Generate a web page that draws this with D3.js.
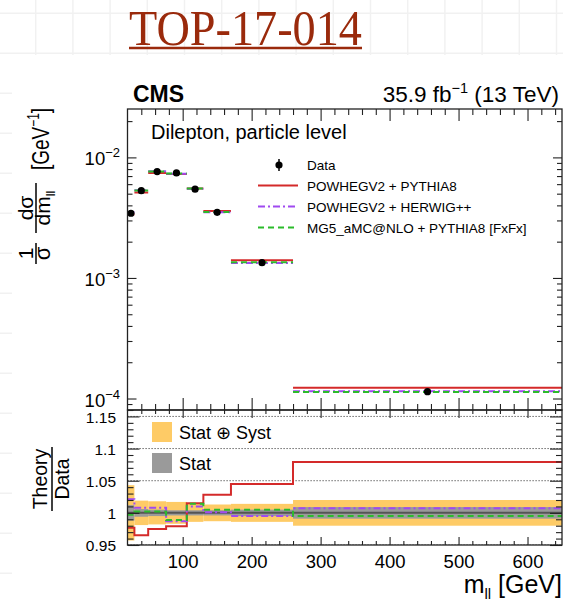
<!DOCTYPE html>
<html>
<head>
<meta charset="utf-8">
<script src="https://cdn.jsdelivr.net/npm/d3@7"></script>
<style>
  body { margin: 0; background: #fff; }
  svg { display: block; }
  text { font-family: "Liberation Sans", Arial, Helvetica, sans-serif; fill: #000; }
</style>
</head>
<body>
<svg id="chart" width="563" height="601"></svg>
<script>
// m_ll bin edges [GeV]
const binEdges = [20, 30, 50, 76, 106, 130, 170, 260, 650];
// normalised differential cross section (1/sigma dsigma/dm_ll) [GeV^-1]
const dataValues = [3.44e-3, 5.30e-3, 7.62e-3, 7.43e-3, 5.45e-3, 3.50e-3, 1.34e-3, 1.14e-4];
// theory / data ratios
const ratioPowhegPythia = [0.977, 0.965, 0.975, 0.979, 1.015, 1.028, 1.045, 1.079];
const ratioPowhegHerwig = [1.021, 1.008, 1.008, 0.987, 1.010, 1.001, 0.995, 1.007];
const ratioMg5Pythia    = [0.997, 1.002, 1.002, 0.989, 1.014, 1.005, 1.005, 0.995];
// relative uncertainties of the measurement
const totalUnc = [0.043, 0.019, 0.018, 0.017, 0.014, 0.013, 0.014, 0.020];
const statUnc  = [0.012, 0.006, 0.005, 0.004, 0.004, 0.004, 0.005, 0.009];
// axis ticks
const xTickValues = [100, 200, 300, 400, 500, 600];
const topDecades = [-4, -3, -2];
const ratioTickValues = [0.95, 1, 1.05, 1.1, 1.15];
const ratioTickLabels = ["0.95", "1", "1.05", "1.1", "1.15"];
const legendNames = ["Data", "POWHEGV2 + PYTHIA8", "POWHEGV2 + HERWIG++", "MG5_aMC@NLO + PYTHIA8 [FxFx]"];

const W = 563, H = 601;
const svg = d3.select("#chart");

// slide background with faint grid
const bg = svg.append("g");
bg.append("rect").attr("width", W).attr("height", H).attr("fill", "#fff");
const gridX = d3.range(-1.5, W, 37.2), gridY = d3.range(13.3, H, 40);
bg.selectAll("line.gx").data(gridX).join("line")
  .attr("x1", d => d).attr("x2", d => d).attr("y1", 0).attr("y2", H)
  .attr("stroke", "#f1f1f1").attr("stroke-width", 1.5);
bg.selectAll("line.gy").data(gridY).join("line")
  .attr("x1", 0).attr("x2", W).attr("y1", d => d).attr("y2", d => d)
  .attr("stroke", "#f1f1f1").attr("stroke-width", 1.5);
bg.append("rect").attr("x", 12).attr("y", 55).attr("width", W - 12).attr("height", H - 55).attr("fill", "#fff");

// title
svg.append("text").attr("x", 129).attr("y", 45)
  .attr("textLength", 233).attr("lengthAdjust", "spacingAndGlyphs")
  .style("font-family", "'Liberation Serif', 'DejaVu Serif', serif")
  .style("font-size", "50px").style("fill", "#9a2a0c")
  .text("TOP-17-014");
svg.append("line").attr("x1", 129).attr("x2", 362).attr("y1", 48).attr("y2", 48)
  .attr("stroke", "#9a2a0c").attr("stroke-width", 2.5);

// scales
const x = d3.scaleLinear().domain([20, 650]).range([127.5, 562]);
const yTop = d3.scaleLog().domain([8.03e-5, 0.0252]).range([410, 109]);
const yRat = d3.scaleLinear().domain([0.95, 1.16]).range([545, 410]);

const bins = d3.range(dataValues.length).map(i => ({
  lo: binEdges[i], hi: binEdges[i + 1], mid: (binEdges[i] + binEdges[i + 1]) / 2,
  data: dataValues[i], tot: totalUnc[i], stat: statUnc[i]
}));

const models = [
  { name: legendNames[1], ratio: ratioPowhegPythia, color: "#d42a2a", dash: null },
  { name: legendNames[2], ratio: ratioPowhegHerwig, color: "#a04af0", dash: "7,3,2,3" },
  { name: legendNames[3], ratio: ratioMg5Pythia, color: "#2bbb2b", dash: "6,4" }
];

const defs = svg.append("defs");
defs.append("clipPath").attr("id", "clipTop").append("rect")
  .attr("x", x.range()[0]).attr("y", 109).attr("width", x.range()[1] - x.range()[0]).attr("height", 301);
defs.append("clipPath").attr("id", "clipRat").append("rect")
  .attr("x", x.range()[0]).attr("y", 410).attr("width", x.range()[1] - x.range()[0]).attr("height", 135);

// ---------- upper panel ----------
const upper = svg.append("g").attr("clip-path", "url(#clipTop)");
models.forEach(m => {
  upper.append("g").selectAll("line").data(bins).join("line")
    .attr("x1", d => x(d.lo)).attr("x2", d => x(d.hi))
    .attr("y1", (d, i) => yTop(d.data * m.ratio[i])).attr("y2", (d, i) => yTop(d.data * m.ratio[i]))
    .attr("stroke", m.color).attr("stroke-width", 2)
    .attr("stroke-dasharray", m.dash);
});
upper.append("g").selectAll("line").data(bins).join("line")
  .attr("x1", d => x(d.mid)).attr("x2", d => x(d.mid))
  .attr("y1", d => yTop(d.data * (1 - d.tot))).attr("y2", d => yTop(d.data * (1 + d.tot)))
  .attr("stroke", "#000").attr("stroke-width", 1.5);
upper.append("g").selectAll("circle").data(bins).join("circle")
  .attr("cx", d => x(d.mid)).attr("cy", d => yTop(d.data)).attr("r", 3.6).attr("fill", "#000");

// ---------- ratio panel ----------
const rat = svg.append("g").attr("clip-path", "url(#clipRat)");
rat.append("g").selectAll("rect").data(bins).join("rect")
  .attr("x", d => x(d.lo)).attr("width", d => x(d.hi) - x(d.lo))
  .attr("y", d => yRat(1 + d.tot)).attr("height", d => yRat(1 - d.tot) - yRat(1 + d.tot))
  .attr("fill", "#fecb66");
rat.append("g").selectAll("rect").data(bins).join("rect")
  .attr("x", d => x(d.lo)).attr("width", d => x(d.hi) - x(d.lo))
  .attr("y", d => yRat(1 + d.stat)).attr("height", d => yRat(1 - d.stat) - yRat(1 + d.stat))
  .attr("fill", "#9a9a9a");
rat.append("g").selectAll("line").data([0.95, 1.05, 1.1, 1.15]).join("line")
  .attr("x1", x.range()[0]).attr("x2", x.range()[1])
  .attr("y1", d => yRat(d)).attr("y2", d => yRat(d))
  .attr("stroke", "#444").attr("stroke-width", 1).attr("stroke-dasharray", "1.2,1.8");
rat.append("line").attr("x1", x.range()[0]).attr("x2", x.range()[1])
  .attr("y1", yRat(1)).attr("y2", yRat(1)).attr("stroke", "#555").attr("stroke-width", 2);
const step = d3.line().x(d => x(d[0])).y(d => yRat(d[1])).curve(d3.curveStepAfter);
models.forEach(m => {
  const pts = binEdges.map((e, i) => [e, m.ratio[Math.min(i, m.ratio.length - 1)]]);
  rat.append("path").attr("d", step(pts)).attr("fill", "none")
    .attr("stroke", m.color).attr("stroke-width", 2).attr("stroke-dasharray", m.dash);
});

// ---------- axes ----------
function styleAxis(g) {
  g.select(".domain").remove();
  g.selectAll(".tick line").attr("stroke", "#222").attr("stroke-width", 1.1);
  g.attr("font-family", null).attr("font-size", null);
}
const xMinor = d3.range(40, 650, 20).filter(v => v % 100 !== 0);
function xAxes(yPos, orient, major, minor, withLabels) {
  const gen = orient === "bottom" ? d3.axisBottom : d3.axisTop;
  svg.append("g").attr("transform", `translate(0,${yPos})`)
    .call(gen(x).tickValues(xMinor).tickSize(-minor).tickSizeOuter(0).tickFormat(""))
    .call(styleAxis);
  const g = svg.append("g").attr("transform", `translate(0,${yPos})`)
    .call(gen(x).tickValues(xTickValues).tickSize(-major).tickSizeOuter(0)
      .tickPadding(9.5).tickFormat(withLabels ? d3.format("d") : ""))
    .call(styleAxis);
  g.selectAll("text").style("font-size", "18.5px");
}
xAxes(410, "bottom", 12, 6, false);
xAxes(109, "top", 12, 6, false);
xAxes(410, "top", 8, 4, false);
xAxes(545, "bottom", 8, 4, true);

// log y axis of the upper panel
const logMinor = [];
[-5, -4, -3, -2].forEach(e => d3.range(2, 10).forEach(k => {
  const v = k * Math.pow(10, e);
  if (v > yTop.domain()[0] && v < yTop.domain()[1]) logMinor.push(v);
}));
const logMajor = topDecades.map(e => Math.pow(10, e));
[["left", x.range()[0]], ["right", x.range()[1]]].forEach(([side, xPos]) => {
  const gen = side === "left" ? d3.axisLeft : d3.axisRight;
  svg.append("g").attr("transform", `translate(${xPos},0)`)
    .call(gen(yTop).tickValues(logMinor).tickSize(-5).tickSizeOuter(0).tickFormat(""))
    .call(styleAxis);
  const g = svg.append("g").attr("transform", `translate(${xPos},0)`)
    .call(gen(yTop).tickValues(logMajor).tickSize(-9).tickSizeOuter(0).tickPadding(7.5).tickFormat(""))
    .call(styleAxis);
  if (side === "left") {
    g.selectAll(".tick text").each(function (d) {
      const t = d3.select(this).attr("dy", null).attr("y", 7.5).style("font-size", "18.5px");
      t.append("tspan").text("10");
      t.append("tspan").attr("dy", -8).style("font-size", "13px").text("\u2212" + (-Math.round(Math.log10(d))));
    });
  }
});

// linear y axis of the ratio panel
const ratMinor = d3.range(95, 117).map(v => v / 100).filter(v => Math.round(v * 100) % 5 !== 0);
[["left", x.range()[0]], ["right", x.range()[1]]].forEach(([side, xPos]) => {
  const gen = side === "left" ? d3.axisLeft : d3.axisRight;
  svg.append("g").attr("transform", `translate(${xPos},0)`)
    .call(gen(yRat).tickValues(ratMinor).tickSize(-6).tickSizeOuter(0).tickFormat(""))
    .call(styleAxis);
  const g = svg.append("g").attr("transform", `translate(${xPos},0)`)
    .call(gen(yRat).tickValues(ratioTickValues).tickSize(-12).tickSizeOuter(0).tickPadding(11.5)
      .tickFormat((d, i) => side === "left" ? ratioTickLabels[i] : ""))
    .call(styleAxis);
  g.selectAll("text").style("font-size", "15.5px").attr("dy", "0.36em");
});

// frames
[[109, 410], [410, 545]].forEach(([y0, y1]) => {
  svg.append("rect").attr("x", x.range()[0]).attr("y", y0)
    .attr("width", x.range()[1] - x.range()[0]).attr("height", y1 - y0)
    .attr("fill", "none").attr("stroke", "#222").attr("stroke-width", 1.3);
});

// ---------- texts ----------
svg.append("text").attr("x", 133).attr("y", 101.5).style("font-weight", "bold").style("font-size", "23px").text("CMS");
const lumi = svg.append("text").attr("x", 559).attr("y", 101.5).attr("text-anchor", "end").style("font-size", "22.5px");
lumi.append("tspan").text("35.9 fb");
lumi.append("tspan").attr("dy", -9).style("font-size", "14.5px").text("\u22121");
lumi.append("tspan").attr("dy", 9).text(" (13 TeV)");
svg.append("text").attr("x", 151).attr("y", 138.5).style("font-size", "20px").text("Dilepton, particle level");

// legend of the upper panel
const legY = [165, 185.5, 206.5, 227.5];
svg.append("line").attr("x1", 279).attr("x2", 279).attr("y1", legY[0] - 6).attr("y2", legY[0] + 6)
  .attr("stroke", "#000").attr("stroke-width", 1.5);
svg.append("circle").attr("cx", 279).attr("cy", legY[0]).attr("r", 3.6).attr("fill", "#000");
models.forEach((m, i) => {
  svg.append("line").attr("x1", 258).attr("x2", 298).attr("y1", legY[i + 1]).attr("y2", legY[i + 1])
    .attr("stroke", m.color).attr("stroke-width", 2).attr("stroke-dasharray", m.dash);
});
legendNames.forEach((n, i) => {
  svg.append("text").attr("x", 307).attr("y", legY[i] + 5).style("font-size", "13.5px").text(n);
});

// legend of the ratio panel
svg.append("rect").attr("x", 152).attr("y", 422).attr("width", 20).attr("height", 20).attr("fill", "#fecb66");
svg.append("text").attr("x", 179).attr("y", 438.5).style("font-size", "18px").text("Stat \u2295 Syst");
svg.append("rect").attr("x", 152).attr("y", 453).attr("width", 20).attr("height", 20).attr("fill", "#9a9a9a");
svg.append("text").attr("x", 179).attr("y", 469.5).style("font-size", "18px").text("Stat");

// y-axis title of the upper panel
function rot(xp, yp) { return `translate(${xp},${yp}) rotate(-90)`; }
svg.append("text").attr("transform", rot(33, 253.5)).attr("text-anchor", "middle").style("font-size", "21px").text("1");
svg.append("text").attr("transform", rot(50, 253.5)).attr("text-anchor", "middle").style("font-size", "22px").text("\u03c3");
svg.append("line").attr("x1", 36).attr("x2", 36).attr("y1", 243).attr("y2", 264).attr("stroke", "#000").attr("stroke-width", 1.5);
svg.append("text").attr("transform", rot(33, 208)).attr("text-anchor", "middle").style("font-size", "21px").text("d\u03c3");
const dm = svg.append("text").attr("transform", rot(50, 208)).attr("text-anchor", "middle").style("font-size", "21px");
dm.append("tspan").text("dm");
dm.append("tspan").attr("dy", 5).style("font-size", "13px").text("ll");
svg.append("line").attr("x1", 36).attr("x2", 36).attr("y1", 183).attr("y2", 233).attr("stroke", "#000").attr("stroke-width", 1.5);
const gev = svg.append("text").attr("transform", rot(49, 139) + " scale(1,1.3)")
  .attr("text-anchor", "middle").style("font-size", "19px");
gev.append("tspan").text("[GeV");
gev.append("tspan").attr("dy", -8).style("font-size", "12px").text("\u22121");
gev.append("tspan").attr("dy", 8).text("]");

// y-axis title of the ratio panel
svg.append("text").attr("transform", rot(47, 479)).attr("text-anchor", "middle").style("font-size", "19.5px").text("Theory");
svg.append("line").attr("x1", 52).attr("x2", 52).attr("y1", 447).attr("y2", 511).attr("stroke", "#000").attr("stroke-width", 1.5);
svg.append("text").attr("transform", rot(69, 479)).attr("text-anchor", "middle").style("font-size", "19.5px").text("Data");

// x-axis title
const xt = svg.append("text").attr("x", 562).attr("y", 593).attr("text-anchor", "end").style("font-size", "25px");
xt.append("tspan").text("m");
xt.append("tspan").attr("dy", 6).style("font-size", "15px").text("ll");
xt.append("tspan").attr("dy", -6).text(" [GeV]");
</script>
</body>
</html>
